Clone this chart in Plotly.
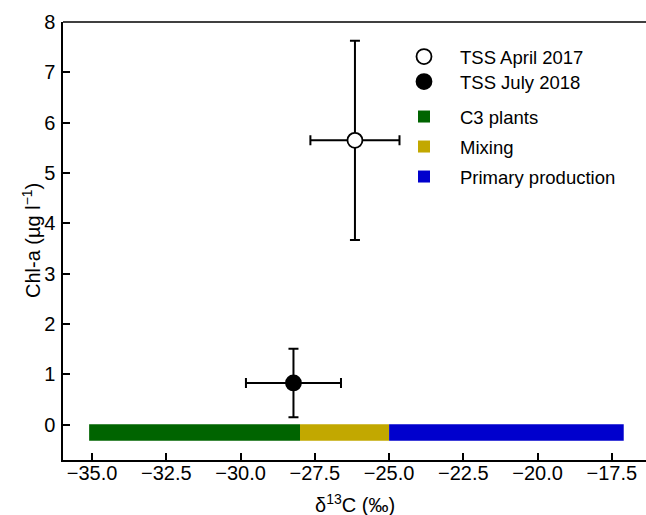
import plotly.graph_objects as go

# ---------------- data ----------------
sample_names = ["TSS April 2017", "TSS July 2018"]
sample_d13c = [-26.15, -28.22]
sample_d13c_err = [1.50, 1.60]
sample_chla = [5.65, 0.83]
sample_chla_err = [1.98, 0.68]
sample_fill = ["white", "black"]

source_names = ["C3 plants", "Mixing", "Primary production"]
source_start = [-35.1, -28.0, -25.0]
source_end = [-28.0, -25.0, -17.1]
source_colors = ["#006400", "#C2A800", "#0000CD"]
source_bar_y = -0.155
source_bar_height = 0.33

x_ticks = [-35.0, -32.5, -30.0, -27.5, -25.0, -22.5, -20.0, -17.5]
y_ticks = [0, 1, 2, 3, 4, 5, 6, 7, 8]
x_range = [-35.98, -16.35]
y_range = [-0.70, 8.0]

x_title = "δ<sup>13</sup>C (‰)"
y_title = "Chl-a (µg l<sup>\u22121</sup>)"

# ---------------- layout geometry (pixels) ----------------
W, H = 646, 515
ML, MR, MT, MB = 63, 0, 22, 55
PW, PH = W - ML - MR, H - MT - MB
FONT = "Liberation Sans, Arial, sans-serif"

legend_rows_px = [57, 82, 117, 147, 177]  # y pixel of each legend row (anchor)
legend_left_px = 388


def py(pix):
    return (MT + PH - pix) / PH


def px(pix):
    return (pix - ML) / PW


fig = go.Figure()

# source ranges (horizontal bars)
for k, (name, s, e, c) in enumerate(zip(source_names, source_start, source_end, source_colors)):
    fig.add_trace(go.Bar(
        x=[e - s], y=[source_bar_y], base=[s], orientation="h",
        width=source_bar_height, name=name,
        marker=dict(color=c, line=dict(width=0)),
        legend=f"legend{k + 3}",
    ))

# samples with error bars
for i, (name, x, xe, y, ye, fc) in enumerate(zip(sample_names, sample_d13c, sample_d13c_err,
                                                  sample_chla, sample_chla_err, sample_fill)):
    fig.add_trace(go.Scatter(
        x=[x], y=[y], mode="markers", name=name,
        marker=dict(size=15, color=fc, line=dict(color="black", width=1.8)),
        error_x=dict(type="data", array=[xe], color="black", thickness=2, width=5),
        error_y=dict(type="data", array=[ye], color="black", thickness=2, width=5),
        legend="legend" if i == 0 else "legend2",
    ))

axis_common = dict(
    showline=True, linecolor="black", linewidth=1.5,
    ticks="inside", ticklen=7, tickwidth=1.5, tickcolor="black",
    showgrid=False, zeroline=False, automargin=False,
    tickfont=dict(family=FONT, size=20, color="black"),
)

fig.update_xaxes(
    range=x_range, tickvals=x_ticks,
    ticktext=[f"{v:.1f}".replace("-", "\u2212") for v in x_ticks],
    ticklabelstandoff=-6,
    **axis_common,
)
fig.update_yaxes(
    range=y_range, tickvals=y_ticks,
    ticklabelstandoff=2,
    **axis_common,
)

legend_names = ["legend", "legend2", "legend3", "legend4", "legend5"]
legend_layout = {}
for ln, ypix in zip(legend_names, legend_rows_px):
    legend_layout[ln] = dict(
        x=px(legend_left_px), y=py(ypix), xanchor="left", yanchor="middle",
        xref="paper", yref="paper",
        bgcolor="rgba(0,0,0,0)", borderwidth=0,
        font=dict(family=FONT, size=18.5, color="black"),
        itemsizing="trace", itemwidth=62,
    )

fig.update_layout(
    width=W, height=H,
    margin=dict(l=ML, r=MR, t=MT, b=MB, pad=0),
    plot_bgcolor="white", paper_bgcolor="white",
    barmode="overlay",
    showlegend=True,
    **legend_layout,
    shapes=[dict(type="line", xref="paper", yref="paper", x0=0, x1=1, y0=1, y1=1,
                 line=dict(color="black", width=1.5))],
    annotations=[
        dict(text=x_title, xref="paper", yref="paper", x=px(355), y=py(503),
             xanchor="center", yanchor="middle", showarrow=False,
             font=dict(family=FONT, size=20, color="black")),
        dict(text=y_title, xref="paper", yref="paper", x=px(31), y=py(241),
             xanchor="center", yanchor="middle", showarrow=False, textangle=-90,
             font=dict(family=FONT, size=20, color="black")),
    ],
)

fig.write_html(
    "out.html",
    config={"displayModeBar": False},
    post_script="document.body.style.margin='0px';document.body.style.overflow='hidden';",
)
